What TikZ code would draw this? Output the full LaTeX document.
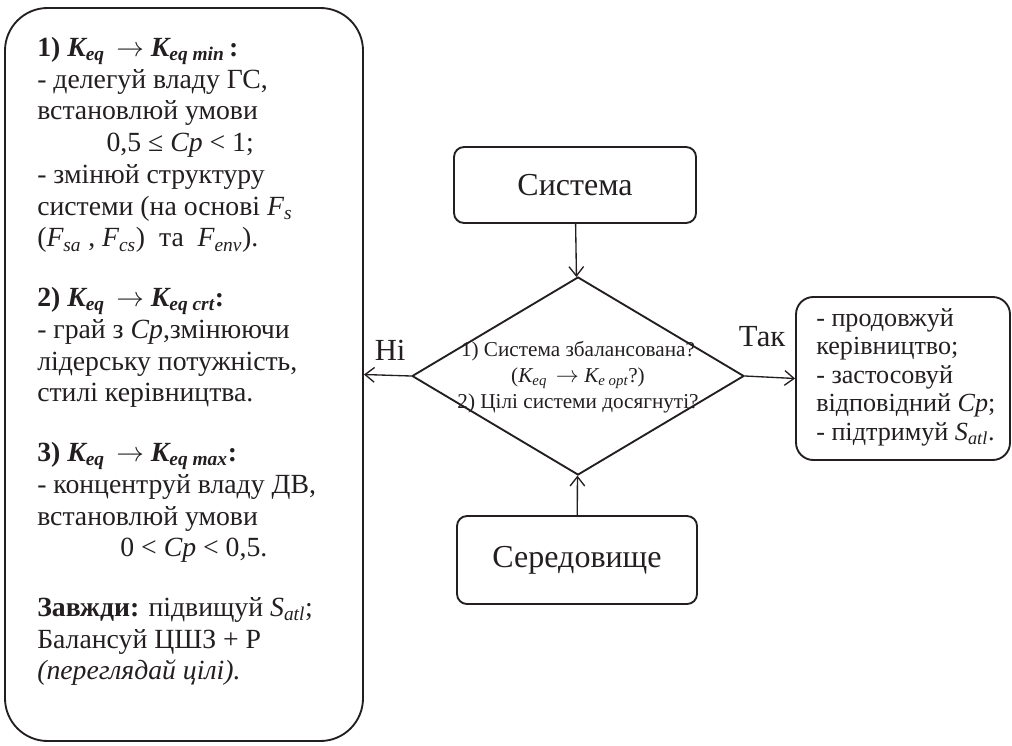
\documentclass[tikz,border=0pt]{standalone}
\usepackage{fontspec}
\setmainfont{Liberation Serif}
\usepackage{xcolor}
\usepackage{tikz}
\usetikzlibrary{arrows.meta,calc,positioning,shapes.geometric,fit}
\definecolor{ink}{HTML}{231F20}
\newcommand\ix[2]{\textit{#1\textsubscript{#2}}}
\newcommand\kb[1]{{\bfseries\itshape K\textsubscript{#1}}}
\newcommand\ra{\ \,$\rightarrow$\ }

\begin{document}
\begin{tikzpicture}[x=.75pt,y=-.75pt,>={Straight Barb[length=7pt,width=11pt]},color=ink]
\tikzset{frame/.style={draw=ink,line width=1.4pt,inner sep=0pt},
flow/.style={->,line width=1pt,draw=ink},
big/.style={font=\fontsize{24}{28}\selectfont},
yesno/.style={font=\fontsize{23}{27}\selectfont}}
\useasboundingbox (0,0) rectangle (1012,745);
% left: what to do when not balanced
\node[frame,rounded corners=32pt,fit={(5,8) (363,741)}] (act) {};
\node[anchor=north west,align=left,inner sep=0pt,font=\fontsize{20.8}{23.8}\selectfont]
 (acttxt) at (37,37)
 {\textbf{1) \kb{eq}\ra\kb{eq min}\,:}\\
 - делегуй владу ГС,\\
 встановлюй умови\\
 \hspace*{2.5em}0,5 ≤ \textit{Cp} < 1;\\
 - змінюй структуру\\
 системи (на основі \ix{F}{s}\\
 (\ix{F}{sa} , \ix{F}{cs}) \ та \ \ix{F}{env}).\\[21pt]
 \textbf{2) \kb{eq}\ra\kb{eq crt}:}\\
 - грай з \textit{Cp},змінюючи\\
 лідерську потужність,\\
 стилі керівництва.\\[21pt]
 \textbf{3) \kb{eq}\ra\kb{eq max}:}\\
 - концентруй владу ДВ,\\
 встановлюй умови\\
 \hspace*{3em}0 < \textit{Cp} < 0,5.\\[21pt]
 \textbf{Завжди:} підвищуй \ix{S}{atl};\\
 Балансуй ЦШЗ + Р\\
 \textit{(переглядай цілі).}};
% middle: system, decision, environment
\node[frame,rounded corners=7.5pt,fit={(454,147) (696,223)}] (sys) {};
\node[big] (systxt) at (sys.center) {Система};
\node[frame,rounded corners=7.5pt,fit={(457,516) (697,604)}] (env) {};
\node[big] (envtxt) at (env.center) {Середовище};
\node[diamond,draw=ink,line width=1.4pt,inner sep=0pt,minimum width=249pt,
 minimum height=148.5pt] (dia) at (578,376) {};
\node[align=center,font=\fontsize{15.9}{19.4}\selectfont] (diatxt) at (578,377)
 {1) Система збалансована?\\
 (\ix{K}{eq}\ra\ix{K}{e opt}?)\\
 2) Цілі системи досягнуті?};
% right: what to do when balanced
\node[frame,rounded corners=13pt,fit={(796,297) (1010,460)}] (ok) {};
\node[anchor=north west,align=left,inner sep=0pt,font=\fontsize{19.6}{21.4}\selectfont]
 (oktxt) at (816,308)
 {- продовжуй\\
 керівництво;\\
 - застосовуй\\
 відповідний \textit{Cp};\\
 - підтримуй \ix{S}{atl}.};
% connectors
\draw[flow] (sys) -- (dia);
\draw[flow] (env) -- (dia);
\draw[flow] (dia.west) -- node[above=7pt,yesno,xshift=2pt]{Ні} (act.east);
\draw[flow] (dia.east) -- node[above=19pt,yesno,xshift=-6pt]{Так} (ok.west);
\end{tikzpicture}
\end{document}
